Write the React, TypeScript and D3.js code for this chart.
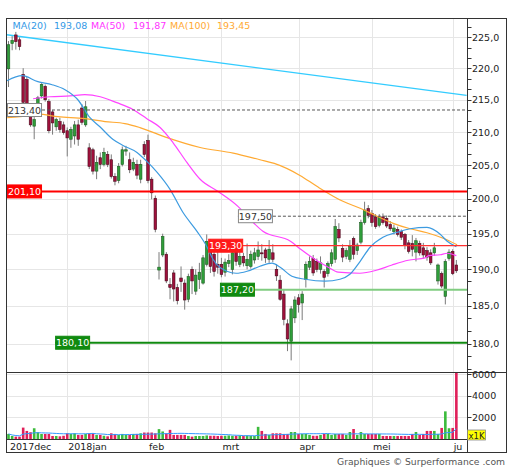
import React from 'react';
import * as d3 from 'd3';

type OHLC = [number, number, number, number]; // open, high, low, close

const ohlcDec: OHLC[] = [
  [219.9, 224.4, 217.0, 223.8], [224.0, 225.2, 222.9, 224.5], [225.4, 225.9, 223.0, 224.3],
  [224.6, 225.0, 222.9, 223.5], [219.0, 220.0, 213.9, 214.6], [218.2, 218.6, 213.8, 214.2],
  [213.4, 213.7, 210.8, 211.1], [210.9, 212.3, 208.9, 211.9], [214.2, 215.6, 213.9, 215.3],
  [215.6, 217.6, 215.2, 217.4], [217.1, 217.4, 214.7, 215.0], [214.7, 215.1, 209.8, 210.2],
  [213.1, 213.4, 209.6, 211.4], [210.8, 212.2, 210.2, 211.9], [211.6, 212.2, 209.9, 210.4],
  [211.1, 211.6, 209.6, 209.9],
];
const ohlcJan: OHLC[] = [
  [210.2, 210.7, 206.3, 209.1], [208.9, 210.8, 207.6, 210.4], [209.4, 211.7, 208.1, 211.1],
  [211.1, 211.9, 207.9, 208.9], [213.7, 214.3, 211.1, 211.5], [211.1, 214.8, 210.8, 213.9],
  [207.6, 208.3, 204.4, 204.8], [207.3, 207.6, 203.6, 204.1], [204.1, 206.4, 202.9, 205.4],
  [206.1, 206.9, 204.4, 205.1], [205.1, 207.6, 204.8, 206.9], [206.6, 207.1, 204.7, 205.1],
  [205.8, 206.6, 203.0, 203.3], [203.3, 203.8, 202.0, 202.6], [202.7, 205.3, 202.3, 204.8],
  [205.1, 207.8, 204.8, 207.3], [207.1, 207.9, 206.4, 207.3], [205.8, 206.9, 203.8, 204.3],
  [204.4, 206.1, 204.1, 205.4], [205.1, 205.8, 202.9, 203.5], [202.9, 205.8, 202.3, 205.1],
  [208.1, 208.6, 206.2, 206.6],
];
const ohlcFeb: OHLC[] = [
  [208.7, 209.6, 202.3, 202.7], [202.9, 203.2, 199.95, 200.9], [200.1, 200.5, 195.2, 195.6],
  [189.9, 192.4, 188.6, 190.3], [192.0, 195.0, 191.7, 194.6], [192.1, 192.4, 188.1, 188.4],
  [187.9, 188.8, 185.9, 187.5], [189.5, 189.9, 185.6, 187.3], [187.5, 188.0, 185.2, 185.7],
  [188.8, 190.4, 186.9, 188.3], [188.1, 188.6, 184.5, 185.8], [185.9, 189.4, 185.5, 189.0],
  [190.0, 190.4, 186.6, 188.4], [187.0, 190.0, 186.5, 189.2], [188.6, 190.9, 187.3, 189.6],
  [188.1, 192.0, 187.9, 191.6], [190.7, 194.9, 190.4, 193.9], [193.5, 194.2, 189.5, 190.4],
  [192.1, 192.6, 189.0, 189.7], [190.7, 193.5, 189.4, 190.3],
];
const ohlcMar: OHLC[] = [
  [190.7, 191.6, 188.9, 189.3], [189.6, 191.5, 189.0, 191.0], [190.8, 192.1, 190.3, 191.2],
  [190.0, 192.8, 189.3, 192.3], [192.4, 193.0, 190.5, 191.1], [190.7, 192.4, 190.3, 191.8],
  [191.8, 192.3, 190.4, 190.9], [190.5, 193.6, 190.0, 191.4], [190.4, 192.6, 190.1, 192.1],
  [191.3, 193.0, 190.8, 192.3], [191.8, 193.9, 191.3, 192.7], [192.3, 193.5, 191.2, 192.2],
  [192.7, 193.0, 190.9, 191.6], [191.4, 194.1, 190.9, 192.8], [192.3, 193.5, 191.0, 191.4],
  [190.0, 190.7, 188.4, 189.1], [188.5, 189.2, 185.7, 185.9], [186.6, 187.3, 182.4, 183.2],
  [182.6, 183.2, 179.0, 180.6], [180.3, 185.0, 177.8, 184.6], [183.4, 186.3, 182.7, 185.8],
];
const ohlcApr: OHLC[] = [
  [186.1, 186.6, 184.1, 185.2], [185.4, 187.0, 183.1, 186.6], [188.6, 191.1, 187.5, 190.7],
  [190.3, 191.8, 189.9, 191.1], [191.5, 192.0, 189.1, 189.5], [191.1, 191.5, 189.6, 190.0],
  [190.0, 191.8, 189.4, 190.9], [189.7, 190.0, 187.5, 188.9], [189.4, 191.1, 189.0, 190.8],
  [190.8, 192.8, 190.4, 192.3], [191.4, 197.1, 190.9, 196.0], [195.6, 196.5, 193.8, 194.4],
  [192.9, 193.5, 191.0, 191.7], [191.8, 193.0, 191.4, 192.6], [191.4, 194.1, 191.0, 193.2],
  [194.3, 194.6, 191.4, 192.1], [192.6, 193.7, 192.0, 193.4], [193.8, 197.0, 193.5, 196.6],
  [196.6, 199.6, 196.3, 198.4], [198.6, 199.1, 197.2, 197.6],
];
const ohlcMay: OHLC[] = [
  [197.9, 198.4, 196.0, 196.6], [197.4, 197.8, 195.7, 196.0], [196.2, 197.8, 195.9, 197.4],
  [197.4, 197.9, 196.3, 196.6], [197.2, 197.6, 195.8, 196.1], [196.3, 196.8, 195.4, 195.7],
  [195.3, 196.3, 194.9, 195.8], [195.6, 196.0, 194.6, 194.9], [195.3, 195.6, 194.1, 194.5],
  [194.9, 195.1, 192.8, 193.3], [193.7, 194.1, 192.2, 192.5], [193.6, 194.8, 191.8, 192.8],
  [192.4, 194.4, 191.1, 194.0], [193.6, 194.0, 191.9, 192.3], [193.0, 193.7, 191.5, 192.0],
  [192.6, 193.1, 191.2, 191.7], [192.3, 192.8, 190.6, 190.9], [192.3, 193.7, 191.9, 193.0],
  [188.4, 190.8, 187.9, 190.6], [189.4, 189.7, 187.4, 187.7], [186.3, 191.4, 185.2, 191.1],
  [191.5, 192.8, 191.2, 192.4],
];
const ohlcJun: OHLC[] = [
  [192.5, 192.8, 189.2, 189.4], [190.6, 191.3, 189.5, 189.8],
];

// volume in thousands
const volDec = [470, 280, 220, 220, 1060, 750, 630, 1000, 630, 470, 470, 470, 280, 280, 250, 300];
const volJan = [530, 470, 530, 380, 380, 470, 530, 530, 380, 380, 300, 250, 530, 470, 380, 470, 380, 380, 470, 470, 530, 600];
const volFeb = [600, 600, 530, 920, 700, 530, 850, 380, 380, 380, 380, 280, 220, 280, 280, 280, 330, 300, 300, 280];
const volMar = [300, 300, 330, 300, 300, 330, 300, 330, 300, 280, 1130, 750, 470, 380, 530, 530, 530, 470, 470, 650, 650];
const volApr = [470, 470, 470, 380, 300, 300, 380, 470, 470, 380, 470, 470, 470, 380, 650, 930, 380, 650, 470, 470];
const volMay = [470, 470, 470, 280, 280, 280, 280, 280, 280, 280, 280, 470, 650, 380, 470, 750, 750, 750, 470, 1030, 2570, 1000];
const volJun = [1030, 6800];

// moving averages: [candle index, value]
const ma20Pts: [number, number][] = [
  [-0.4, 218.0], [3.7, 218.8], [8, 217.85], [11.9, 217.37], [15.4, 216.58], [18.9, 215.0],
  [22.2, 212.2], [24.9, 210.8], [28.5, 208.85], [31.2, 207.95], [35, 206.9], [37.7, 205.55],
  [40.5, 203.9], [44, 201.4], [47.5, 198.07], [51.4, 195.3], [54, 193.2], [55.7, 191.4],
  [59.5, 189.74], [62, 189.46], [65, 189.74], [68.5, 190.43], [71.8, 190.85], [74, 190.29],
  [77.2, 189.04], [80.8, 188.63], [86.2, 188.36], [90.3, 188.63], [93, 189.32], [95.8, 191.12],
  [98.5, 193.08], [102, 194.5], [105.9, 195.2], [109.4, 195.7], [114, 195.9], [117.6, 194.92],
  [119.5, 193.93], [122, 193.15],
];
const ma50Pts: [number, number][] = [
  [6.7, 215.16], [11.3, 215.47], [16.8, 215.6], [20.8, 215.8], [25, 215.47], [29.5, 214.54],
  [34, 213.45], [37.7, 212.05], [41.3, 210.7], [44.8, 208.4], [48.6, 205.4], [52.2, 202.9],
  [57.1, 201.1], [62.5, 198.93], [65.8, 197.06], [69.3, 195.35], [76.8, 193.93], [79.6, 192.8],
  [84.3, 191.12], [87.1, 190.3], [89.8, 189.6], [95.7, 189.46], [100.2, 189.87], [104.3, 190.57],
  [108.9, 191.26], [113.5, 191.6], [114.5, 191.9], [117.6, 192.03], [119.5, 192.24], [122, 191.9],
];
const ma100Pts: [number, number][] = [
  [-0.4, 212.2], [3.1, 212.36], [8, 212.75], [13.5, 212.36], [20.8, 212.05], [26.3, 211.6],
  [31.7, 211.3], [35.8, 210.68], [43.2, 209.15], [52.2, 207.65], [61.2, 206.8], [68.5, 205.8],
  [72.4, 205.25], [79.4, 203.46], [84, 201.85], [91.1, 199.66], [95.8, 198.64], [100.4, 197.49],
  [104.8, 196.48], [109.4, 195.7], [114, 195.13], [118.4, 194.35], [122.2, 193.43],
];
const trendPts: [number, number][] = [[-0.49, 225.43], [124.8, 215.68]];

const legendNames = ['MA(20)', 'MA(50)', 'MA(100)'];
const legendValues = ['193,08', '191,87', '193,45'];

// horizontal levels: value, label, first candle index
const levelValues = [213.4, 201.1, 197.5, 193.3, 187.2, 180.1];
const levelLabels = ['213,40', '201,10', '197,50', '193,30', '187,20', '180,10'];
const levelStart = [-0.4, -0.4, 62.5, 54.4, 57.6, 12.7];

const monthLabels = ['2017dec', '2018jan', 'feb', 'mrt', 'apr', 'mei', 'ju'];
const monthStart = [-0.3, 16, 38, 58, 79, 99, 121];
const priceTicks = [180, 185, 190, 195, 200, 205, 210, 215, 220, 225];
const volTicks = [2000, 4000, 6000];
const volTickLabels = ['2000', '4000', '6000'];
const footer = 'Graphiques © Surperformance .com';

const candles: OHLC[] = [...ohlcDec, ...ohlcJan, ...ohlcFeb, ...ohlcMar, ...ohlcApr, ...ohlcMay, ...ohlcJun];
const volumes: number[] = [...volDec, ...volJan, ...volFeb, ...volMar, ...volApr, ...volMay, ...volJun];

const FONT = 'DejaVu Sans';

export default function App() {
  const L = 6, R = 467, AX = 507, T = 18, PB = 372, VB = 439, DB = 453;
  const x = d3.scaleLinear().domain([-0.68, 124.9]).range([L, R]);
  const y = d3.scaleLog().domain([176.3, 228.2]).range([PB, T]);
  const yv = d3.scaleLinear().domain([0, 6230]).range([VB, PB]);

  const maLine = d3.line<[number, number]>().x(d => x(d[0])).y(d => y(d[1])).curve(d3.curveMonotoneX);
  const volMA = volumes.map((_, i) => {
    const s = volumes.slice(Math.max(0, i - 19), i + 1);
    return [i, d3.mean(s) as number] as [number, number];
  });
  const volLine = d3.line<[number, number]>().x(d => x(d[0])).y(d => yv(d[1]));

  const minorTicks = d3.range(-2, 30).map(k => 180 + (k * 5) / 3).filter(v => v > 176.3 && v < 228.2);

  const levelStyle = [
    { line: '#555', w: 1, dash: '3,2', box: '#fff', boxStroke: '#888', text: '#333' },
    { line: '#ff0000', w: 2, dash: '', box: '#ff0000', boxStroke: '#ff0000', text: '#fff' },
    { line: '#555', w: 1, dash: '3,2', box: '#fff', boxStroke: '#888', text: '#333' },
    { line: '#ff3030', w: 1.3, dash: '', box: '#ff1a1a', boxStroke: '#ff1a1a', text: '#fff' },
    { line: '#80cc80', w: 2, dash: '', box: '#108a10', boxStroke: '#108a10', text: '#fff' },
    { line: '#108a10', w: 2, dash: '', box: '#108a10', boxStroke: '#108a10', text: '#fff' },
  ];
  const legendX = [12.5, 91, 170];
  const legendValX = [54, 133, 217];
  const legendColors = ['#3399e6', '#ff33ff', '#ffaa33'];

  const [t0, t1] = trendPts;

  return (
    <svg width={512} height={470} style={{ position: 'absolute', left: 0, top: 0, background: '#fff' }}
      fontFamily={FONT}>
      <defs>
        <clipPath id="pc"><rect x={L} y={T} width={R - L} height={PB - T} /></clipPath>
        <clipPath id="vc"><rect x={L} y={PB} width={R - L} height={VB - PB} /></clipPath>
        <clipPath id="dc"><rect x={L} y={VB} width={R - L} height={DB - VB} /></clipPath>
      </defs>
      <rect x={0} y={0} width={512} height={470} fill="#fff" />
      {/* grid */}
      <g stroke="#e6e6e6" strokeWidth={1}>
        {priceTicks.map(t => (
          <line key={'h' + t} x1={L} x2={R} y1={Math.round(y(t)) + 0.5} y2={Math.round(y(t)) + 0.5} />
        ))}
        {volTicks.map(t => (
          <line key={'vh' + t} x1={L} x2={R} y1={Math.round(yv(t)) + 0.5} y2={Math.round(yv(t)) + 0.5} />
        ))}
        {monthStart.slice(1).map(m => (
          <line key={'v' + m} x1={Math.round(x(m)) + 0.5} x2={Math.round(x(m)) + 0.5} y1={T} y2={VB} />
        ))}
      </g>

      {/* price panel */}
      <g clipPath="url(#pc)">
        <line x1={x(t0[0])} y1={y(t0[1])} x2={x(t1[0])} y2={y(t1[1])} stroke="#33ccff" strokeWidth={1.3} />
        {candles.map((c, i) => {
          const [o, h, l, cl] = c;
          const cx = x(i);
          const up = cl >= o;
          const top = y(Math.max(o, cl));
          const bh = Math.max(1, y(Math.min(o, cl)) - top);
          return (
            <g key={'c' + i}>
              <line x1={cx} x2={cx} y1={y(h)} y2={y(l)} stroke="#7a7a7a" strokeWidth={1} />
              <rect x={cx - 1.3} y={top} width={2.6} height={bh}
                fill={up ? '#2f9e3a' : '#a0103c'} stroke={up ? '#1d5e22' : '#4a0a1c'} strokeWidth={0.6} />
            </g>
          );
        })}
        <path d={maLine(ma100Pts) || ''} fill="none" stroke="#ffaa33" strokeWidth={1.2} />
        <path d={maLine(ma50Pts) || ''} fill="none" stroke="#ff44ff" strokeWidth={1.2} />
        <path d={maLine(ma20Pts) || ''} fill="none" stroke="#3d9be0" strokeWidth={1.2} />
        {levelValues.map((v, i) => {
          const st = levelStyle[i];
          const yy = y(v);
          return (
            <line key={'l' + i} x1={x(levelStart[i])} x2={R} y1={yy} y2={yy}
              stroke={st.line} strokeWidth={st.w} strokeDasharray={st.dash || undefined} />
          );
        })}
        {levelValues.map((v, i) => {
          const st = levelStyle[i];
          const yy = y(v);
          const bx = x(levelStart[i]);
          return (
            <g key={'lb' + i}>
              <rect x={bx + 0.5} y={yy - 6.5} width={34} height={13} fill={st.box} stroke={st.boxStroke} strokeWidth={1} />
              <text x={bx + 17.5} y={yy + 3.6} fontSize={9.5} fill={st.text} textAnchor="middle">{levelLabels[i]}</text>
            </g>
          );
        })}
      </g>

      {/* legend */}
      {legendNames.map((n, i) => (
        <g key={'lg' + i} fontSize={9.5} fill={legendColors[i]}>
          <text x={legendX[i]} y={29}>{n}</text>
          <text x={legendValX[i]} y={29}>{legendValues[i]}</text>
        </g>
      ))}

      {/* volume panel */}
      <g clipPath="url(#vc)">
        {volumes.map((v, i) => {
          const c = candles[i];
          const up = c[3] >= c[0];
          const top = yv(v);
          return <rect key={'vb' + i} x={x(i) - 1.3} y={top} width={2.6} height={VB - top}
            fill={up ? '#3cbb3c' : '#e0205a'} />;
        })}
        <path d={volLine(volMA) || ''} fill="none" stroke="#3399ff" strokeWidth={1} />
      </g>

      {/* date labels */}
      <g clipPath="url(#dc)" fontSize={9.5} fill="#222">
        {monthLabels.map((m, i) => (
          <text key={'m' + i} x={i === 0 ? 10 : x(monthStart[i]) + 1} y={449.5}>{m}</text>
        ))}
      </g>

      {/* frame */}
      <g stroke="#333" strokeWidth={1} fill="none">
        <rect x={L + 0.5} y={T + 0.5} width={AX - L - 1} height={DB - T - 1} />
        <line x1={R + 0.5} x2={R + 0.5} y1={T} y2={DB} />
        <line x1={L} x2={AX} y1={PB + 0.5} y2={PB + 0.5} />
        <line x1={L} x2={R} y1={VB + 0.5} y2={VB + 0.5} />
      </g>

      {/* right price axis */}
      <g stroke="#333" strokeWidth={1}>
        {minorTicks.map((v, i) => (
          <line key={'mt' + i} x1={R} x2={R + 4.5} y1={Math.round(y(v)) + 0.5} y2={Math.round(y(v)) + 0.5} />
        ))}
        {volTicks.map(t => (
          <line key={'vt' + t} x1={R} x2={R + 4.5} y1={Math.round(yv(t)) + 0.5} y2={Math.round(yv(t)) + 0.5} />
        ))}
      </g>
      <g fontSize={9.5} fill="#222">
        {priceTicks.map(t => (
          <text key={'pt' + t} x={472} y={y(t) + 3.5}>{t.toFixed(1).replace('.', ',')}</text>
        ))}
        {volTicks.map((t, i) => (
          <text key={'vl' + t} x={472} y={yv(t) + 3.5}>{volTickLabels[i]}</text>
        ))}
      </g>
      <rect x={467.5} y={430} width={18} height={10} fill="#ffff00" stroke="#888" strokeWidth={0.8} />
      <text x={476.5} y={438.5} fontSize={8.5} fill="#222" textAnchor="middle">x1K</text>

      <text x={337} y={465} fontSize={9.5} fill="#555" textLength={168} lengthAdjust="spacingAndGlyphs">{footer}</text>
    </svg>
  );
}
